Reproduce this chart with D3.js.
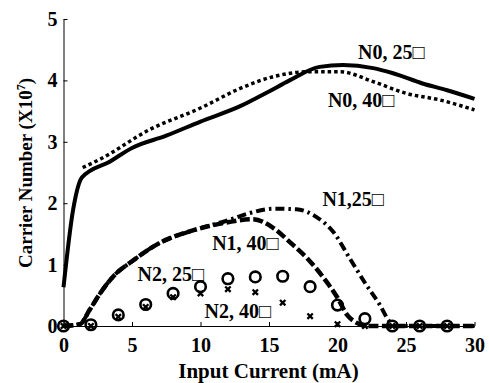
<!DOCTYPE html>
<html><head><meta charset="utf-8">
<script src="https://cdn.jsdelivr.net/npm/d3@7"></script>
<style>
html,body{margin:0;padding:0;background:#fff;}
text{font-family:"Liberation Serif","Times New Roman",serif;font-weight:bold;fill:#000;}
</style></head>
<body><svg id="c" width="489" height="383"></svg>
<script>
// ---- data (Input current mA, carrier number x1e7) ----
const xTicks = [0, 5, 10, 15, 20, 25, 30];
const yTicks = [0, 1, 2, 3, 4, 5];
const n0_25_x = [0, 0.7, 1.35, 3.4, 5, 7.5, 10, 12.9, 15, 16.5, 18.7, 20.4, 22.6, 24, 26.2, 28, 30];
const n0_25_y = [0.63, 1.89, 2.42, 2.68, 2.9, 3.1, 3.33, 3.58, 3.82, 4.0, 4.22, 4.25, 4.2, 4.12, 3.95, 3.84, 3.7];
const n0_40_x = [1.4, 2.7, 6.3, 10, 12.9, 15.3, 17.8, 20.2, 22.6, 25, 27.5, 30];
const n0_40_y = [2.58, 2.72, 3.2, 3.55, 3.87, 4.06, 4.14, 4.14, 3.98, 3.79, 3.68, 3.52];
const n1_40_x = [0, 1.2, 1.9, 2.7, 3.6, 5.1, 7, 9.5, 12, 13.8, 15.3, 16.5, 17.8, 19, 20, 20.7, 21.4, 22.1, 30];
const n1_40_y = [0, 0.03, 0.26, 0.54, 0.8, 1.07, 1.35, 1.56, 1.69, 1.74, 1.6, 1.37, 1.1, 0.78, 0.46, 0.18, 0.05, 0, 0];
const n1_25_x = [0, 1.2, 1.9, 2.7, 3.6, 5.1, 7, 9.5, 12, 13.6, 15.3, 17, 18.5, 19.7, 20.9, 22.1, 23.1, 23.8, 24.2, 30];
const n1_25_y = [0, 0.03, 0.26, 0.54, 0.8, 1.07, 1.35, 1.56, 1.72, 1.84, 1.91, 1.9, 1.77, 1.53, 1.1, 0.67, 0.34, 0.07, 0, 0];
const n2_x = [0, 2, 4, 6, 8, 10, 12, 14, 16, 18, 20, 22, 24, 26, 28];
const n2_25_y = [0, 0.02, 0.18, 0.35, 0.53, 0.64, 0.77, 0.8, 0.81, 0.64, 0.34, 0.12, 0, 0, 0];
const n2_40_y = [0, 0, 0.15, 0.31, 0.47, 0.53, 0.6, 0.55, 0.38, 0.16, 0.03, 0, 0, 0, 0];
const labels = ["N0, 25\u25A1", "N0, 40\u25A1", "N1,25\u25A1", "N1, 40\u25A1", "N2, 25\u25A1", "N2, 40\u25A1"];
const labelAt = [[21.5, 4.35], [19.3, 3.57], [18.9, 1.96], [10.85, 1.24], [5.4, 0.73], [10.3, 0.13]];

const svg = d3.select("#c");
const x = d3.scaleLinear().domain([0, 30]).range([63.5, 474.5]);
const y = d3.scaleLinear().domain([0, 5]).range([326, 19]);

// axes
const gx = svg.append("g").attr("transform", `translate(0,${y(0)})`)
  .call(d3.axisBottom(x).tickValues(xTicks).tickFormat(d3.format("d")).tickSize(-4).tickSizeOuter(0).tickPadding(12));
const gy = svg.append("g").attr("transform", `translate(${x(0)},0)`)
  .call(d3.axisLeft(y).tickValues(yTicks).tickFormat(d3.format("d")).tickSize(-4).tickSizeOuter(0).tickPadding(6));
[gx, gy].forEach(g => {
  g.selectAll("path,line").attr("stroke", "#000").attr("stroke-width", 1);
  g.selectAll("text").style("font-size", "20px").style("font-family", "Liberation Serif").style("font-weight", "bold");
});

const zip = (xs, ys) => xs.map((v, i) => [v, ys[i]]);
const line = d3.line().x(d => x(d[0])).y(d => y(d[1])).curve(d3.curveMonotoneX);

function drawLine(data, w, dash) {
  svg.append("path").datum(data).attr("d", line).attr("fill", "none")
    .attr("stroke", "#000").attr("stroke-width", w)
    .attr("stroke-dasharray", dash).attr("stroke-linejoin", "round");
}
drawLine(zip(n1_40_x, n1_40_y), 4.5, "10,3.5");
drawLine(zip(n1_25_x, n1_25_y), 4, "9,4,2.5,4");
drawLine(zip(n0_40_x, n0_40_y), 3.5, "3.5,3");
drawLine(zip(n0_25_x, n0_25_y), 4, null);

// N2 markers
svg.append("g").selectAll("path").data(zip(n2_x, n2_40_y)).join("path")
  .attr("transform", d => `translate(${x(d[0])},${y(d[1])})`)
  .attr("d", "M-2.7,-2.7L2.7,2.7M-2.7,2.7L2.7,-2.7")
  .attr("stroke", "#000").attr("stroke-width", 2.3).attr("fill", "none");
svg.append("g").selectAll("circle").data(zip(n2_x, n2_25_y)).join("circle")
  .attr("cx", d => x(d[0])).attr("cy", d => y(d[1])).attr("r", 5.3)
  .attr("fill", "none").attr("stroke", "#000").attr("stroke-width", 2.6);

// labels
svg.append("g").selectAll("text").data(labels).join("text")
  .attr("x", (d, i) => x(labelAt[i][0])).attr("y", (d, i) => y(labelAt[i][1]))
  .style("font-size", "20px").text(d => d);

// axis titles
svg.append("text").attr("x", 268.5).attr("y", 378).attr("text-anchor", "middle")
  .style("font-size", "21px").text("Input Current (mA)");
const yt = svg.append("text").attr("transform", "translate(32,173) rotate(-90)")
  .attr("text-anchor", "middle").style("font-size", "19px");
yt.append("tspan").text("Carrier Number (X10");
yt.append("tspan").attr("dy", -7).style("font-size", "12px").text("7");
yt.append("tspan").attr("dy", 7).text(")");
</script></body></html>
